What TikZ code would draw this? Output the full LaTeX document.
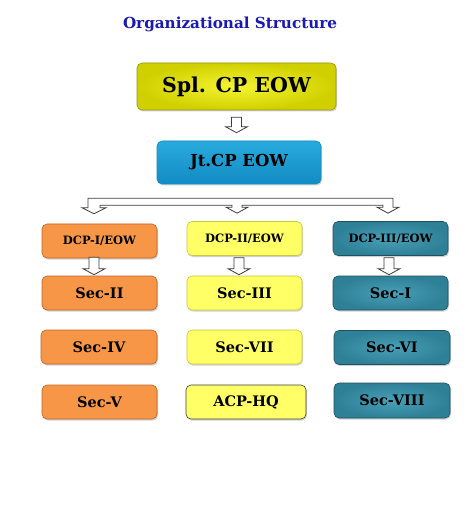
\documentclass[tikz,border=0pt]{standalone}
\usepackage{fontspec}
\setmainfont{DejaVu Serif}
\usetikzlibrary{calc,shadows}
\definecolor{titleblue}{RGB}{26,26,176}
\definecolor{olive1}{RGB}{244,244,50}
\definecolor{olive2}{RGB}{208,208,0}
\definecolor{oliveline}{RGB}{150,150,20}
\definecolor{jtblue1}{RGB}{40,170,222}
\definecolor{jtblue2}{RGB}{18,140,196}
\definecolor{orangefill}{RGB}{247,150,70}
\definecolor{orangeline}{RGB}{190,100,40}
\definecolor{yellowfill}{RGB}{255,255,102}
\definecolor{yellowline}{RGB}{200,200,60}
\definecolor{teal1}{RGB}{72,160,184}
\definecolor{teal2}{RGB}{46,128,150}
\definecolor{tealline}{RGB}{30,80,95}
\definecolor{arrowgray}{RGB}{60,60,60}
\tikzset{
  box/.style={rounded corners=5pt, align=center, inner sep=0pt, text=black,
    drop shadow={shadow xshift=1pt, shadow yshift=-1.5pt, opacity=0.35}},
  topbox/.style={box, inner color=olive1, outer color=olive2, draw=oliveline, line width=0.6pt,
    minimum width=199pt, minimum height=47pt, font=\fontsize{20.5}{24}\selectfont\bfseries},
  jtbox/.style={box, top color=jtblue1, bottom color=jtblue2, draw=jtblue2, line width=0.6pt,
    minimum width=164pt, minimum height=43pt, font=\fontsize{16.5}{20}\selectfont\bfseries},
  obox/.style={box, fill=orangefill, draw=orangeline, line width=0.6pt},
  ybox/.style={box, fill=yellowfill, draw=yellowline, line width=0.6pt},
  tbox/.style={box, inner color=teal1, outer color=teal2, draw=tealline, line width=0.6pt},
  dcp/.style={minimum width=115pt, minimum height=34pt, font=\fontsize{11.5}{14}\selectfont\bfseries},
  sec/.style={minimum width=115pt, minimum height=34pt, font=\fontsize{14.5}{17}\selectfont\bfseries},
  arrowline/.style={draw=arrowgray, fill=white, line width=0.8pt, line join=miter},
}
\newcommand{\hollowdown}[2]{%
  \draw[arrowline] let \p1=#1, \p2=#2 in
   (\x1-5pt,\y1) -- (\x1+5pt,\y1) -- (\x1+5pt,\y2+6pt) -- (\x1+11pt,\y2+6pt) -- (\x1,\y2)
   -- (\x1-11pt,\y2+6pt) -- (\x1-5pt,\y2+6pt) -- cycle;}
\begin{document}
\begin{tikzpicture}[x=1pt,y=-1pt]
\useasboundingbox[fill=white] (0,0) rectangle (474,510);

\node[font=\fontsize{15.2}{18}\selectfont\bfseries, text=titleblue] (title) at (230,24) {Organizational Structure};

\node[topbox] (spl) at (236.5,86.5) {Spl. CP EOW};
\node[jtbox] (jt) at (239,162.5) {Jt.CP EOW};

\node[obox,dcp] (d1) at (99.5,241) {DCP-I/EOW};
\node[ybox,dcp] (d2) at (244.5,238.5) {DCP-II/EOW};
\node[tbox,dcp] (d3) at (390.5,238.5) {DCP-III/EOW};

\node[obox,sec] (s2) at (99.5,293) {Sec-II};
\node[ybox,sec] (s3) at (244.5,293) {Sec-III};
\node[tbox,sec] (s1) at (390.5,293) {Sec-I};

\node[obox,sec,minimum width=116pt] (s4) at (99,347) {Sec-IV};
\node[ybox,sec] (s7) at (244.5,347) {Sec-VII};
\node[tbox,sec,minimum width=116pt] (s6) at (392,347.5) {Sec-VI};

\node[obox,sec] (s5) at (99.5,402) {Sec-V};
\node[ybox,sec,minimum width=120pt,draw=black!75] (hq) at (246,402) {ACP-HQ};
\node[tbox,sec,minimum width=116pt,minimum height=35pt] (s8) at (392,400.5) {Sec-VIII};

% Spl -> Jt
\hollowdown{($(spl.south)+(0,7)$)}{($(jt.north)-(0,8)$)}

% fork Jt -> DCPs
\coordinate (fork) at ($(jt.south)+(0,14)$);
\coordinate (fL) at ($(d1.north)+(-5.5,-10)$);
\coordinate (fM) at ($(d2.north)+(-7.5,-8)$);
\coordinate (fR) at ($(d3.north)+(-2.5,-8)$);
\draw[arrowline] let \p0=(fork), \p1=(fL), \p2=(fM), \p3=(fR) in
  (\x1-6pt,\y0) -- (\x3+5pt,\y0) -- (\x3+5pt,\y3+6pt) -- (\x3+11pt,\y3+6pt) -- (\x3,\y3)
  -- (\x3-11pt,\y3+6pt) -- (\x3-5pt,\y3+6pt) -- (\x3-5pt,\y0-7pt)
  -- (\x2+5pt,\y0-7pt) -- (\x2+5pt,\y2+6pt) -- (\x2+11pt,\y2+6pt) -- (\x2,\y2)
  -- (\x2-11pt,\y2+6pt) -- (\x2-5pt,\y2+6pt) -- (\x2-5pt,\y0-7pt)
  -- (\x1+6pt,\y0-7pt) -- (\x1+6pt,\y1+6pt) -- (\x1+12pt,\y1+6pt) -- (\x1,\y1)
  -- (\x1-12pt,\y1+6pt) -- (\x1-6pt,\y1+6pt) -- cycle;

% DCP -> first Sec row
\hollowdown{($(d1.south)+(-5.5,-1)$)}{($(s2.north)+(-5.5,-1)$)}
\hollowdown{($(d2.south)+(-5.5,2)$)}{($(s3.north)+(-5.5,-1)$)}
\hollowdown{($(d3.south)+(-1.5,2)$)}{($(s1.north)+(-1.5,-1)$)}
\end{tikzpicture}
\end{document}
